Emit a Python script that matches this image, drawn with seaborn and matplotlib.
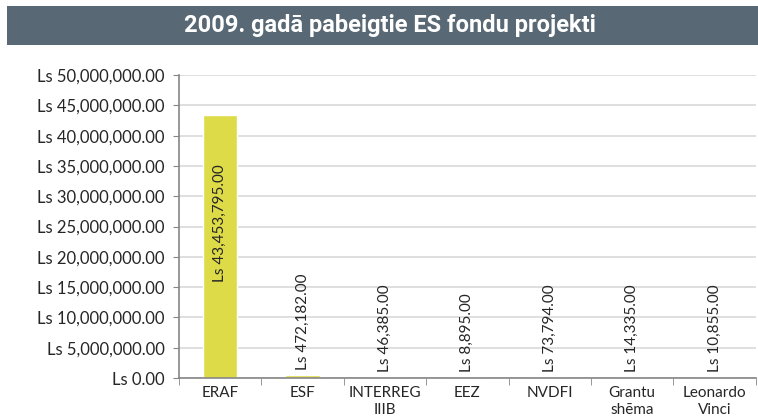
import matplotlib
matplotlib.use("Agg")
import matplotlib.pyplot as plt
import matplotlib.ticker as mticker
import seaborn as sns
import pandas as pd
import numpy as np

# Data
programmas = ["ERAF", "ESF", "INTERREG\nIIIB", "EEZ", "NVDFI", "Grantu\nshēma", "Leonardo\nVinci"]
summas = [43453795.00, 472182.00, 46385.00, 8895.00, 73794.00, 14335.00, 10855.00]
y_ticks = [0, 5e6, 10e6, 15e6, 20e6, 25e6, 30e6, 35e6, 40e6, 45e6, 50e6]

df = pd.DataFrame({"programma": programmas, "summa": summas})

sns.set_style("white")
plt.rcParams["font.family"] = ["Lato", "DejaVu Sans"]

fig = plt.figure(figsize=(7.58, 4.17), dpi=100)
ax = fig.add_axes([0.236, 0.0935, 0.761, 0.7265])

sns.barplot(data=df, x="programma", y="summa", color="#dedb48", width=0.42,
            saturation=1, ax=ax)

ax.set_ylim(0, 50e6)
ax.set_xlim(-0.5, len(programmas) - 0.5)
ax.set_yticks(y_ticks)
ax.yaxis.set_major_formatter(mticker.FuncFormatter(lambda v, p: f"Ls {v:,.2f}"))
ax.yaxis.grid(True, color="#d9d9d9", linewidth=1.2)
ax.set_axisbelow(True)
ax.set_xlabel("")
ax.set_ylabel("")

for s in ["top", "right"]:
    ax.spines[s].set_visible(False)
for s in ["left", "bottom"]:
    ax.spines[s].set_color("#868686")
    ax.spines[s].set_linewidth(1.2)

ax.tick_params(axis="y", labelsize=12, length=4, color="#868686", left=True, pad=6)
ax.tick_params(axis="x", which="major", labelsize=11, length=0, pad=6)
ax.set_xticks(np.arange(-0.5, len(programmas), 1), minor=True)
ax.tick_params(axis="x", which="minor", length=5, color="#868686", bottom=True)

# value labels
for i, v in enumerate(summas):
    txt = f"Ls {v:,.2f}"
    if v > 20e6:
        ax.text(i, v * 0.59, txt, rotation=90, ha="center", va="center", fontsize=11)
    else:
        ax.annotate(txt, (i, v), xytext=(0, 4), textcoords="offset points",
                    rotation=90, ha="center", va="bottom", fontsize=11)

# title bar
fig.patches.append(plt.Rectangle((0.0092, 0.892), 0.991, 0.094, transform=fig.transFigure,
                                 facecolor="#586975", edgecolor="none", zorder=0))
fig.text(0.515, 0.939, "2009. gadā pabeigtie ES fondu projekti", color="white",
         fontsize=17, fontweight="bold", ha="center", va="center",
         family=["Liberation Sans Narrow", "Roboto", "DejaVu Sans"])

fig.savefig("out.png", dpi=100)
